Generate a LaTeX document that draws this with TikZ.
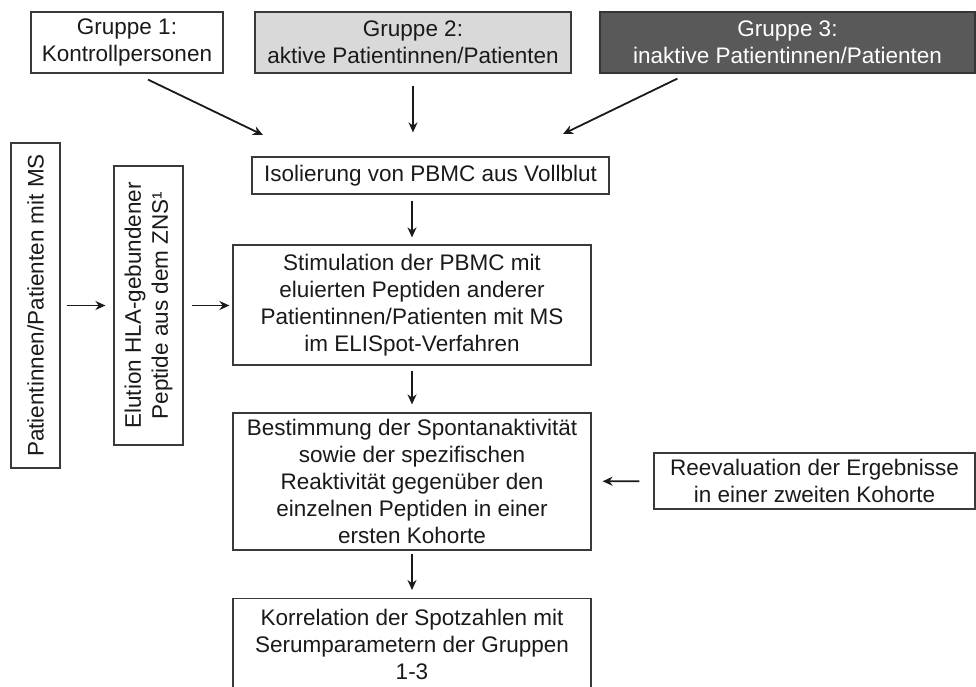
\documentclass[tikz,border=0pt]{standalone}
\usepackage{fontspec}
\setmainfont{Liberation Sans}
\usepackage{tikz}
\usepackage{xcolor}
\usetikzlibrary{calc,arrows.meta}

\definecolor{ink}{HTML}{1A1A1A}
\definecolor{rim}{HTML}{3A3A3A}
\definecolor{lightgrp}{HTML}{D9D9D9}
\definecolor{darkgrp}{HTML}{595959}

\begin{document}
\begin{tikzpicture}[x=1pt,y=-1pt]
            \tikzstyle{every node}=[text=ink, font=\fontsize{22.5}{27}\selectfont, align=center, inner sep=0pt]
            \tikzstyle{box}=[draw=rim, line width=1.2pt, fill=white]
            \tikzstyle{arr}=[draw=ink, line width=1.8pt, -{Stealth[length=10pt,width=9pt]}]
            \useasboundingbox (0,0) rectangle (976,687);
            \clip (0,0) rectangle (976,687);
            % Gruppen
            \node[box, minimum width=192, minimum height=61] (g1) at (127,42.5) {Gruppe 1:\\Kontrollpersonen};
            \node[box, fill=lightgrp, minimum width=316, minimum height=61] (g2) at (413,42.5) {Gruppe 2:\\aktive Patientinnen/Patienten};
            \node[box, fill=darkgrp, draw=darkgrp!60!black, text=white, minimum width=375, minimum height=61] (g3) at (787.5,42.5) {Gruppe 3:\\inaktive Patientinnen/Patienten};
            % Hauptstrang
            \node[box, minimum width=357, minimum height=37] (iso) at (430.5,175.5) {Isolierung von PBMC aus Vollblut};
            \node[box, minimum width=358, minimum height=120] (stim) at (412,305) {Stimulation der PBMC mit\\eluierten Peptiden anderer\\Patientinnen/Patienten mit MS\\im ELISpot-Verfahren};
            \node[box, minimum width=358, minimum height=137] (best) at (412,481.5) {Bestimmung der Spontanaktivität\\sowie der spezifischen\\Reaktivität gegenüber den\\einzelnen Peptiden in einer\\ersten Kohorte};
            \node[box, minimum width=358, minimum height=92, anchor=north] (korr) at (412,598) {Korrelation der Spotzahlen mit\\Serumparametern der Gruppen\\1-3};
            \node[box, minimum width=321, minimum height=56] (reev) at (814.5,481) {Reevaluation der Ergebnisse\\in einer zweiten Kohorte};
            % links, gedreht
            \node[box, rotate=90, minimum width=325, minimum height=49] (pat) at (35.5,305.5) {Patientinnen/Patienten mit MS};
            \node[box, rotate=90, minimum width=279, minimum height=69] (elu) at (148.5,305.5) {Elution HLA-gebundener\\Peptide aus dem ZNS¹};
            % Pfeile
            \coordinate (in1) at (263,135);
            \coordinate (in3) at (563,134);
            \draw[arr] ($(g1.south)+(21,6)$) -- (in1);
            \draw[arr, shorten <=12pt, shorten >=24pt] (g2.south) -- (g2.south |- iso.north);
            \draw[arr] ($(g3.south west)+(78,5)$) -- (in3);
            \draw[arr, shorten <=6pt, shorten >=7pt] (iso.south -| stim.north) -- (stim.north);
            \draw[arr, shorten <=5pt, shorten >=8pt] (stim) -- (best);
            \draw[arr, shorten <=3pt, shorten >=8pt] (best) -- (korr);
            \draw[arr, shorten <=14pt, shorten >=11pt] (reev) -- (best);
            \draw[arr, shorten <=6pt, shorten >=8pt] (pat) -- (elu);
            \draw[arr, shorten <=8pt, shorten >=3pt] (elu) -- (elu -| stim.west);
        \end{tikzpicture}
\end{document}
